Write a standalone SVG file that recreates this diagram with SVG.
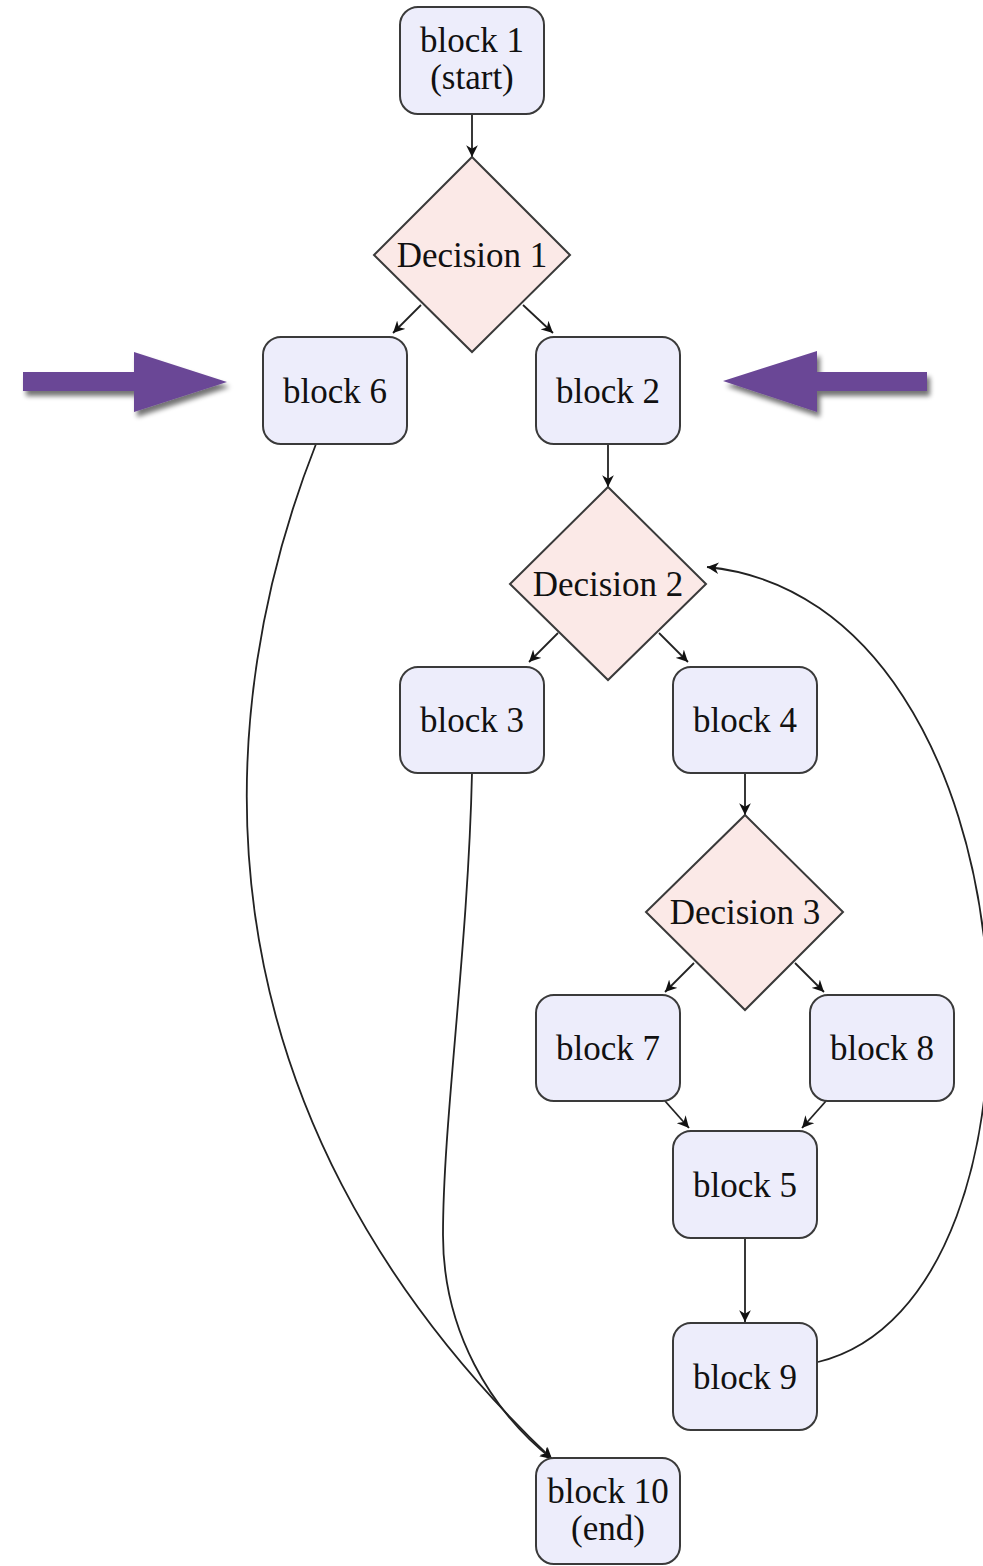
<svg xmlns="http://www.w3.org/2000/svg" width="983" height="1566" viewBox="0 0 983 1566">
<style>
.blk{fill:#ededfb;stroke:#3a3a3a;stroke-width:2}
.dec{fill:#fbe9e7;stroke:#3a3a3a;stroke-width:2}
.t{font-family:'Liberation Serif','Times New Roman',serif;font-size:35px;fill:#111;text-anchor:middle}
.e{fill:none;stroke:#222;stroke-width:1.8;marker-end:url(#ah)}
.pa{fill:#6b4796;filter:url(#sh)}
</style>
<defs>
<marker id="ah" viewBox="0 0 10 10" refX="10" refY="5" markerWidth="6.5" markerHeight="6.5" markerUnits="strokeWidth" orient="auto">
<path d="M0,0 L10,5 L0,10 L3,5 Z" fill="#111"/>
</marker>
<filter id="sh" x="-20%" y="-30%" width="140%" height="170%">
<feGaussianBlur in="SourceAlpha" stdDeviation="2.5"/>
<feOffset dx="3" dy="5" result="b"/>
<feComponentTransfer><feFuncA type="linear" slope="0.55"/></feComponentTransfer>
<feMerge><feMergeNode/><feMergeNode in="SourceGraphic"/></feMerge>
</filter>
</defs>

<g id="connectors">
<line class="e" x1="472" y1="114" x2="472" y2="157"/>
<line class="e" x1="421" y1="305" x2="393" y2="333"/>
<line class="e" x1="523" y1="305" x2="553" y2="333"/>
<line class="e" x1="608" y1="444" x2="608" y2="487"/>
<line class="e" x1="558" y1="633" x2="529" y2="662"/>
<line class="e" x1="659" y1="633" x2="688" y2="662"/>
<line class="e" x1="745" y1="773" x2="745" y2="815"/>
<line class="e" x1="694" y1="963" x2="665" y2="992"/>
<line class="e" x1="795" y1="963" x2="824" y2="992"/>
<line class="e" x1="665" y1="1101" x2="689" y2="1128"/>
<line class="e" x1="826" y1="1101" x2="802" y2="1128"/>
<line class="e" x1="745" y1="1238" x2="745" y2="1322"/>
<path class="e" d="M316,444 C215,700 175,1100 552,1459"/>
<path class="e" d="M472,773 C468,950 443,1120 443,1235 C443,1330 490,1410 552,1459"/>
<path class="e" d="M818,1362 C1075,1300 1045,600 707,567"/>
</g>

<g id="arrow-left">
<path class="pa" d="M23,372 L134,372 L134,352 L227,382 L134,412 L134,391 L23,391 Z"/>
</g>
<g id="arrow-right">
<path class="pa" d="M927,372 L817,372 L817,351 L723,381 L817,412 L817,391 L927,391 Z"/>
</g>

<g id="block1"><rect class="blk" x="400" y="7" width="144" height="107" rx="18"/><text class="t" x="472" y="52">block 1</text><text class="t" x="472" y="89">(start)</text></g>
<g id="decision1"><path class="dec" d="M472,157 L570,255 L472,352 L374,255 Z"/><text class="t" x="472" y="267">Decision 1</text></g>
<g id="block6"><rect class="blk" x="263" y="337" width="144" height="107" rx="18"/><text class="t" x="335" y="403">block 6</text></g>
<g id="block2"><rect class="blk" x="536" y="337" width="144" height="107" rx="18"/><text class="t" x="608" y="403">block 2</text></g>
<g id="decision2"><path class="dec" d="M608,487 L706,584 L608,680 L510,584 Z"/><text class="t" x="608" y="596">Decision 2</text></g>
<g id="block3"><rect class="blk" x="400" y="667" width="144" height="106" rx="18"/><text class="t" x="472" y="732">block 3</text></g>
<g id="block4"><rect class="blk" x="673" y="667" width="144" height="106" rx="18"/><text class="t" x="745" y="732">block 4</text></g>
<g id="decision3"><path class="dec" d="M745,815 L843,912 L745,1010 L646,912 Z"/><text class="t" x="745" y="924">Decision 3</text></g>
<g id="block7"><rect class="blk" x="536" y="995" width="144" height="106" rx="18"/><text class="t" x="608" y="1060">block 7</text></g>
<g id="block8"><rect class="blk" x="810" y="995" width="144" height="106" rx="18"/><text class="t" x="882" y="1060">block 8</text></g>
<g id="block5"><rect class="blk" x="673" y="1131" width="144" height="107" rx="18"/><text class="t" x="745" y="1197">block 5</text></g>
<g id="block9"><rect class="blk" x="673" y="1323" width="144" height="107" rx="18"/><text class="t" x="745" y="1389">block 9</text></g>
<g id="block10"><rect class="blk" x="536" y="1458" width="144" height="106" rx="18"/><text class="t" x="608" y="1503">block 10</text><text class="t" x="608" y="1540">(end)</text></g>
</svg>
